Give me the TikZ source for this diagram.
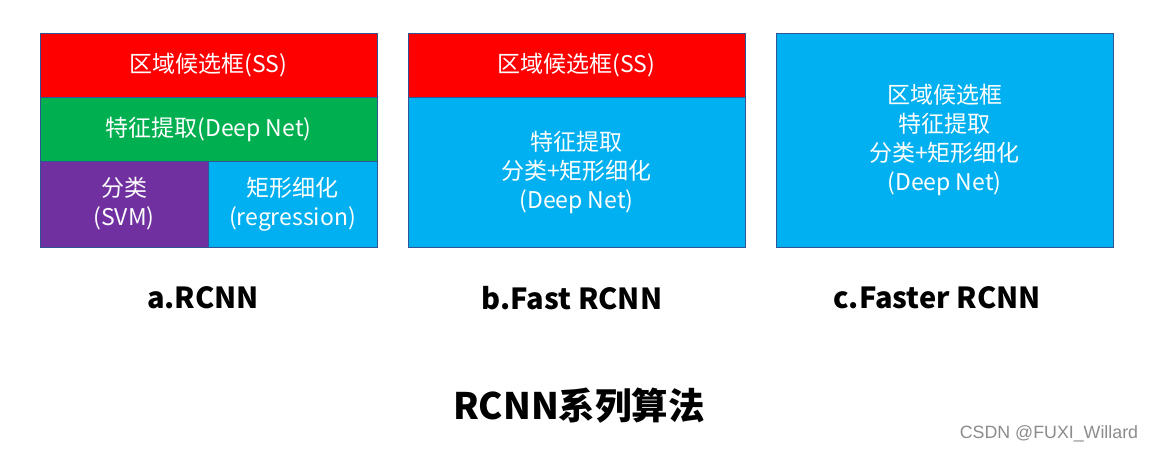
\documentclass[tikz,border=0pt]{standalone}
\usepackage{fontspec}
\setmainfont{Noto Sans CJK SC}
\newfontfamily\wmfont{Liberation Sans}
\definecolor{bred}{HTML}{FF0000}
\definecolor{bgreen}{HTML}{00B050}
\definecolor{bpurple}{HTML}{7030A0}
\definecolor{bblue}{HTML}{00B0F0}
\definecolor{bline}{HTML}{2F5597}
\tikzset{
  cell/.style={draw=bline, line width=1pt, inner sep=0pt, outer sep=0pt},
  celltext/.style={text=white, align=center, font=\fontsize{23}{29}\selectfont, inner sep=0pt},
  caption/.style={font=\fontsize{29}{34}\selectfont\bfseries, inner sep=0pt},
}
\begin{document}
\begin{tikzpicture}[x=1pt,y=-1pt]
\useasboundingbox (0,0) rectangle (1153,453);
\fill[white] (0,0) rectangle (1153,453);
% a
\filldraw[cell, fill=bred] (40,33) rectangle (377,97);
\filldraw[cell, fill=bgreen] (40,97) rectangle (377,161);
\filldraw[cell, fill=bpurple] (40,161) rectangle (208,247);
\filldraw[cell, fill=bblue] (208,161) rectangle (377,247);
\node[celltext] (a1) at (208.5,65) {区域候选框(SS)};
\node[celltext] (a2) at (208.5,129) {特征提取(Deep Net)};
\node[celltext] (a3) at (124,204) {分类\\(SVM)};
\node[celltext] (a4) at (292.5,204) {矩形细化\\(regression)};
% b
\filldraw[cell, fill=bred] (408,33) rectangle (745,97);
\filldraw[cell, fill=bblue] (408,97) rectangle (745,247);
\node[celltext] (b1) at (576.5,65) {区域候选框(SS)};
\node[celltext] (b2) at (576.5,172) {特征提取\\分类+矩形细化\\(Deep Net)};
% c
\filldraw[cell, fill=bblue] (776,33) rectangle (1113,247);
\node[celltext] (c1) at (944.5,140) {区域候选框\\特征提取\\分类+矩形细化\\(Deep Net)};
% captions
\node[caption] (la) at (203,298) {a.RCNN};
\node[caption] (lb) at (572,298) {b.Fast RCNN};
\node[caption] (lc) at (937,298) {c.Faster RCNN};
\node[font=\fontsize{36.5}{42}\selectfont\bfseries, inner sep=0pt] (title) at (579,406) {RCNN系列算法};
\node[font=\wmfont\fontsize{17.8}{20}\selectfont, text=black!45, inner sep=0pt] (wm) at (1049,434) {CSDN @FUXI\_Willard};
\end{tikzpicture}
\end{document}
